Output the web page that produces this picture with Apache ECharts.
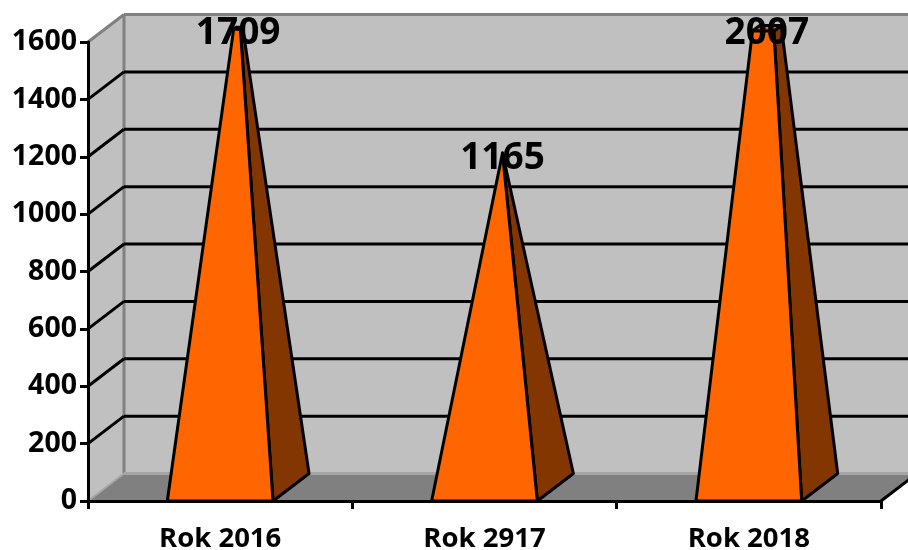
<!DOCTYPE html>
<html>
<head>
<meta charset="utf-8">
<title>Rok</title>
<script src="https://cdn.jsdelivr.net/npm/echarts@6/dist/echarts.min.js"></script>
<style>
  html, body { margin: 0; padding: 0; background: #fff; }
  #chart1 { width: 908px; height: 550px; }
</style>
</head>
<body>
<div id="chart1"></div>
<script>
var categories = ["Rok 2016", "Rok 2917", "Rok 2018"];
var values = [1709, 1165, 2007];
var wallTicks = [200, 400, 600, 800, 1000, 1200, 1400, 1600];

var yMax = 1600;
var depthX = 36;
var depthY = -27.5;
var pyramidRatio = 0.4;

var chartDom = document.getElementById("chart1");
var myChart = echarts.init(chartDom);

function line(p1, p2, color, width) {
  return {
    type: "line",
    shape: { x1: p1[0], y1: p1[1], x2: p2[0], y2: p2[1] },
    style: { stroke: color, lineWidth: width },
  };
}

function poly(points, fill, stroke, width) {
  return {
    type: "polygon",
    shape: { points: points },
    style: { fill: fill, stroke: stroke, lineWidth: width, lineJoin: "round" },
  };
}

function back(p) {
  return [p[0] + depthX, p[1] + depthY];
}

function towards(p, apex, t) {
  return [p[0] + (apex[0] - p[0]) * t, p[1] + (apex[1] - p[1]) * t];
}

// walls, floor and the grid lines that run round them
function renderWalls(params, api) {
  var x0 = params.coordSys.x;
  var x1 = x0 + params.coordSys.width;
  var y0 = api.coord([0, 0])[1];
  var yTop = api.coord([0, yMax])[1];
  var tickY = api.coord([0, api.value(0)])[1];

  var children = [];
  if (params.dataIndex === 0) {
    children.push(poly([[x0, y0], [x0, yTop], back([x0, yTop]), back([x0, y0])], "#C0C0C0", "none", 0));
    children.push(poly([back([x0, y0]), back([x0, yTop]), back([x1, yTop]), back([x1, y0])], "#C0C0C0", "none", 0));
    children.push(poly([[x0, y0], back([x0, y0]), back([x1, y0]), [x1, y0]], "#808080", "none", 0));
    children.push(line(back([x0, y0]), back([x0, yTop]), "#808080", 3));
    children.push(line(back([x0, y0]), back([x1, y0]), "#A6A6A6", 3));
    children.push(line([x0, y0], back([x0, y0]), "#A6A6A6", 2));
    children.push(line([x1, y0], back([x1, y0]), "#000", 3));
  }
  if (api.value(0) === yMax) {
    children.push(line([x0, tickY], back([x0, tickY]), "#808080", 3));
    children.push(line(back([x0, tickY]), back([x1, tickY]), "#808080", 3));
  } else {
    children.push(line([x0, tickY], back([x0, tickY]), "#000", 3));
    children.push(line(back([x0, tickY]), back([x1, tickY]), "#000", 3));
  }
  return { type: "group", children: children };
}

function renderPyramid(params, api) {
  var idx = api.value(0);
  var val = api.value(1);
  var halfWidth = (api.size([1, 0])[0] * pyramidRatio) / 2;
  var base = api.coord([idx, 0]);
  var top = api.coord([idx, val]);

  var fl = [base[0] - halfWidth, base[1]];
  var fr = [base[0] + halfWidth, base[1]];
  var br = back(fr);
  var bl = back(fl);
  var apex = [top[0] + depthX / 2, top[1] + depthY / 2];

  // bars above the axis maximum are cut off flat
  var t = Math.min(1, yMax / val);
  var tfl = towards(fl, apex, t);
  var tfr = towards(fr, apex, t);
  var tbr = towards(br, apex, t);
  var tbl = towards(bl, apex, t);

  return {
    type: "group",
    children: [
      poly([fr, br, tbr, tfr], "#843600", "#000", 3),
      poly([tfl, tfr, tbr, tbl], "#FF6600", "#000", 3),
      poly([fl, fr, tfr, tfl], "#FF6600", "#000", 3),
      {
        type: "text",
        z2: 10,
        style: {
          text: String(val),
          x: apex[0],
          y: tfl[1] * 0.5 + tbl[1] * 0.5 + 5,
          align: "center",
          verticalAlign: "middle",
          font: "bold 37px 'Open Sans'",
          fill: "#000",
        },
      },
    ],
  };
}

var pyramidData = [];
for (var i = 0; i < values.length; i++) {
  pyramidData.push([i, values[i]]);
}

var option = {
  animation: false,
  backgroundColor: "#fff",
  grid: { left: 88, top: 42, right: 27, height: 459, outerBoundsMode: "none" },
  xAxis: {
    type: "category",
    data: categories,
    z: 3,
    axisLine: { lineStyle: { color: "#000", width: 3 } },
    axisTick: { show: true, length: 8, lineStyle: { color: "#000", width: 3 } },
    axisLabel: {
      color: "#000",
      fontFamily: "Open Sans",
      fontWeight: "bold",
      fontSize: 27.5,
      margin: 24,
    },
  },
  yAxis: {
    type: "value",
    min: 0,
    max: yMax,
    interval: 200,
    z: 3,
    axisLine: { show: true, lineStyle: { color: "#000", width: 3 } },
    axisTick: { show: true, length: 8, lineStyle: { color: "#000", width: 3 } },
    axisLabel: {
      color: "#000",
      fontFamily: "Open Sans",
      fontWeight: "bold",
      fontSize: 28.5,
      margin: 11,
      padding: [4, 0, 0, 0],
      formatter: function (v) { return String(v); },
    },
    splitLine: { show: false },
  },
  series: [
    {
      type: "custom",
      z: 1,
      silent: true,
      coordinateSystem: "cartesian2d",
      renderItem: renderWalls,
      encode: { y: 0 },
      data: wallTicks.map(function (v) { return [v]; }),
    },
    {
      type: "custom",
      z: 4,
      coordinateSystem: "cartesian2d",
      renderItem: renderPyramid,
      encode: { x: 0, y: 1 },
      data: pyramidData,
    },
  ],
};

option && myChart.setOption(option);
</script>
</body>
</html>
